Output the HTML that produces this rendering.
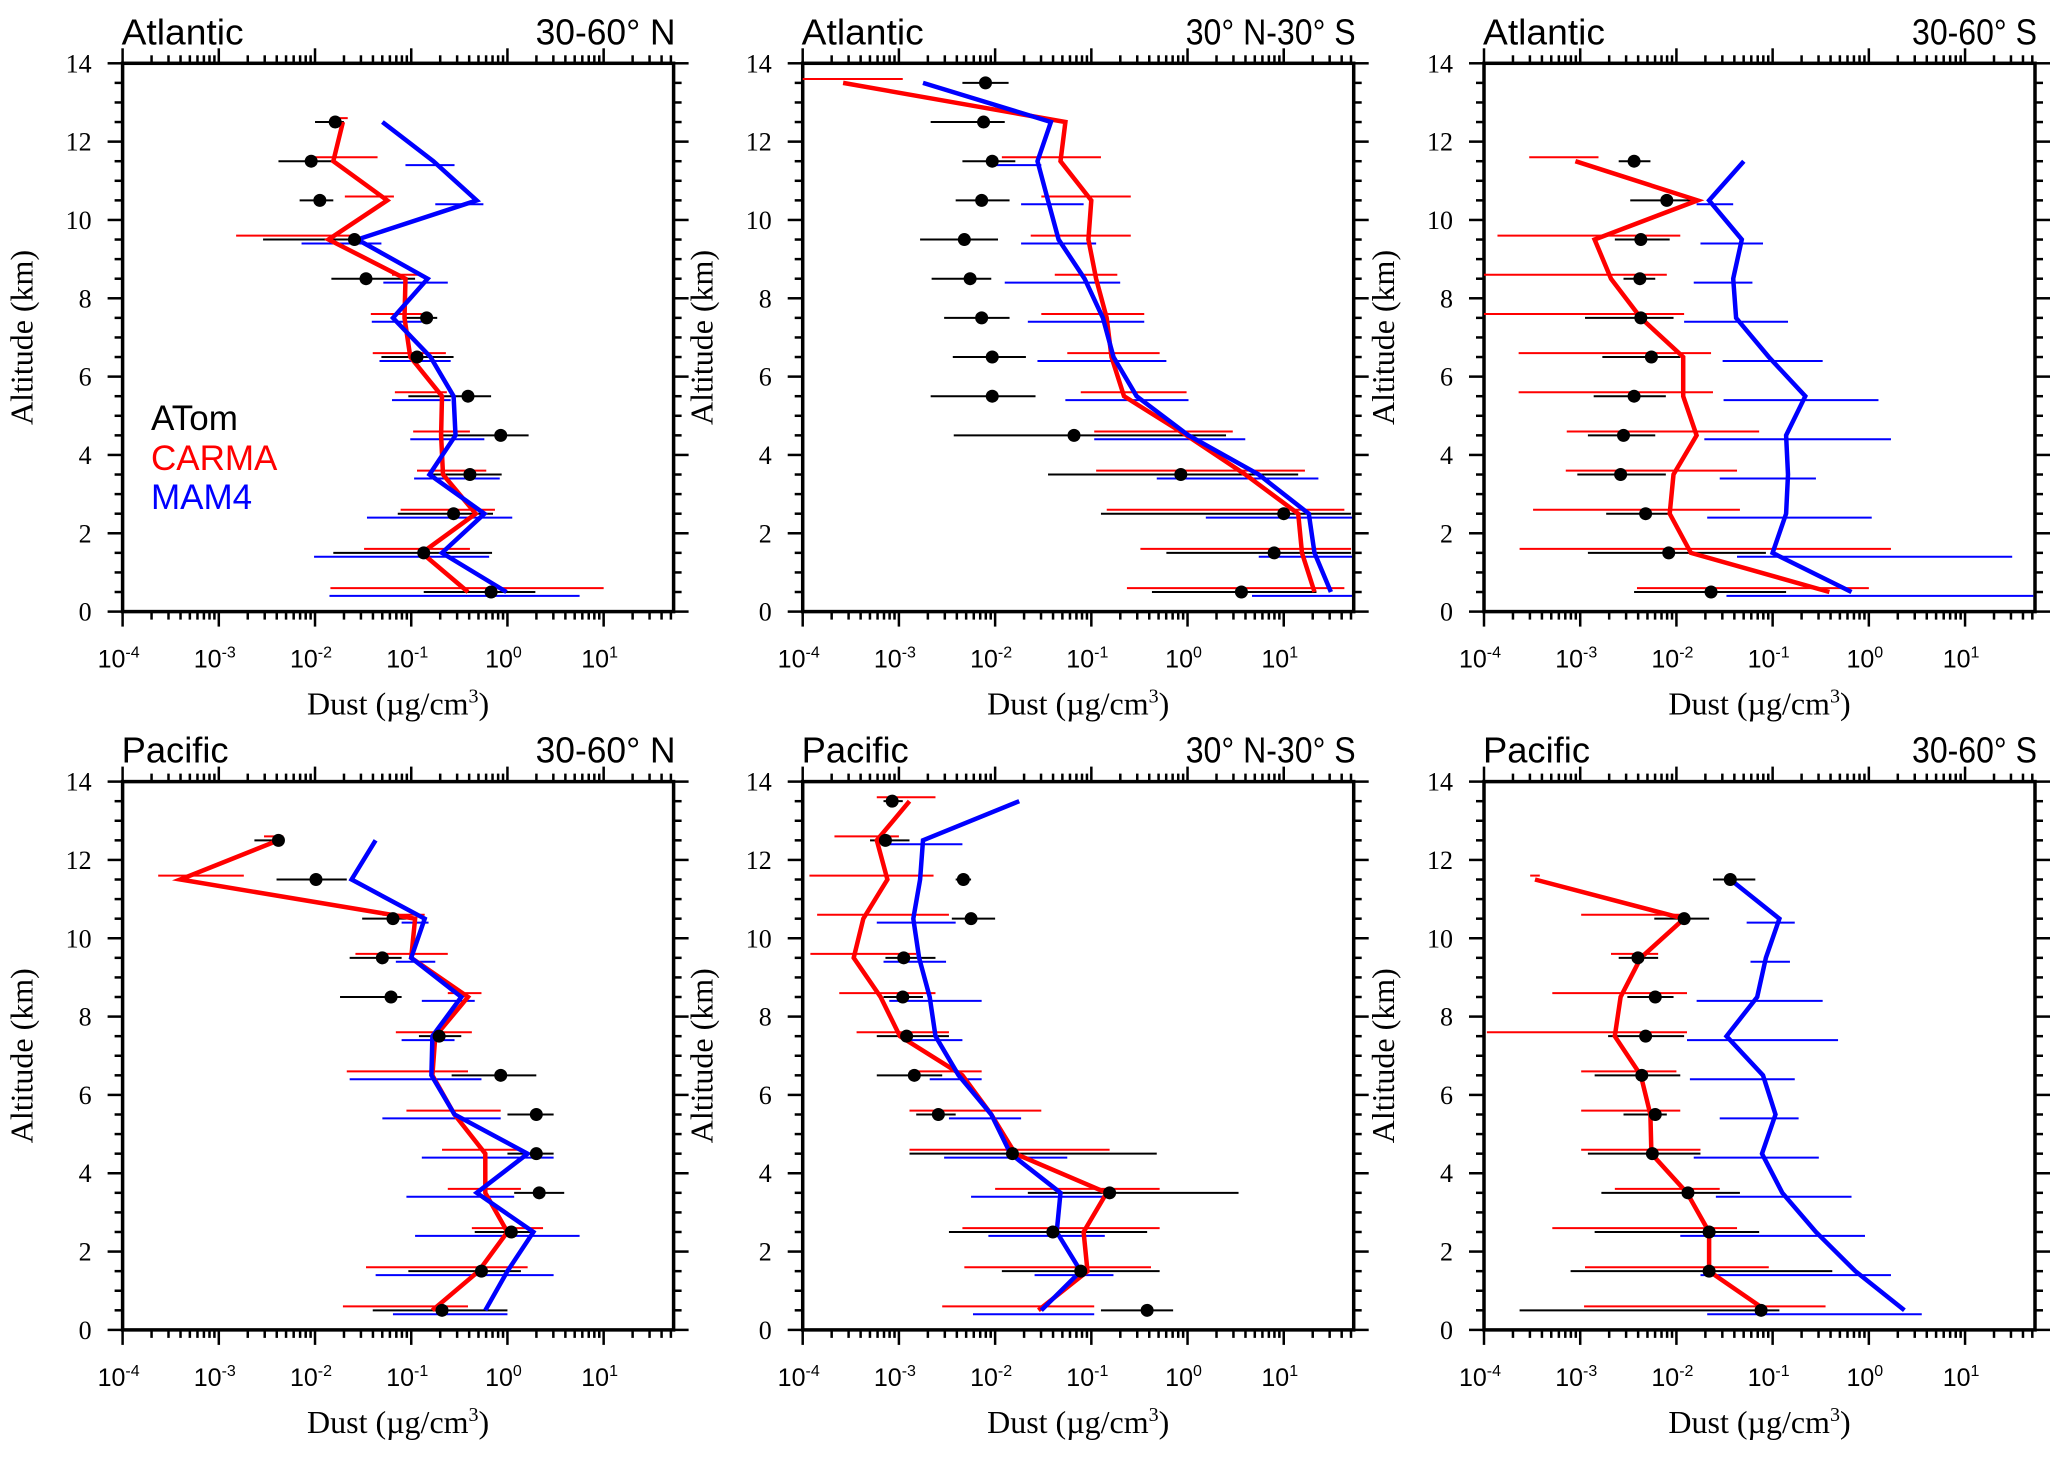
<!DOCTYPE html>
<html><head><meta charset="utf-8">
<style>
html,body{margin:0;padding:0;background:#fff;}
svg{display:block;}
.serif{font-family:"Liberation Serif","DejaVu Serif",serif;}
.sans{font-family:"Liberation Sans","DejaVu Sans",sans-serif;}
</style></head>
<body>
<svg id="chart" width="2067" height="1458" viewBox="0 0 2067 1458" xmlns="http://www.w3.org/2000/svg"></svg>
<script>
// altitudes (km)
const altitudes = [13.5,12.5,11.5,10.5,9.5,8.5,7.5,6.5,5.5,4.5,3.5,2.5,1.5,0.5];
const xTickExps = [-4,-3,-2,-1,0,1];
const yTicks = [0,2,4,6,8,10,12,14];
const panelTitles = ["Atlantic","Atlantic","Atlantic","Pacific","Pacific","Pacific"];
const panelRegions = ["30-60° N","30° N-30° S","30-60° S","30-60° N","30° N-30° S","30-60° S"];
// values are log10(µg/cm3); null = missing
// Panel 1 Atlantic 30-60N
const p1AtomVal=[null,-1.79,-2.04,-1.95,-1.59,-1.47,-0.84,-0.94,-0.41,-0.07,-0.39,-0.56,-0.87,-0.17];
const p1AtomLo=[null,-2.0,-2.38,-2.16,-2.54,-1.83,-1.05,-1.31,-1.03,-0.70,-0.82,-1.14,-1.81,-0.87];
const p1AtomHi=[null,-1.70,-1.79,-1.81,-1.52,-0.96,-0.73,-0.56,-0.17,0.22,-0.06,-0.15,-0.16,0.29];
const p1CarmaVal=[null,-1.71,-1.81,-1.25,-1.86,-1.06,-1.07,-1.01,-0.68,-0.69,-0.67,-0.33,-0.89,-0.41];
const p1CarmaLo=[null,-1.84,-2.07,-1.69,-2.82,-1.20,-1.42,-1.40,-1.17,-0.98,-0.94,-1.11,-1.49,-1.84];
const p1CarmaHi=[null,-1.66,-1.35,-1.18,-1.56,-0.92,-0.89,-0.64,-0.63,-0.39,-0.22,-0.13,-0.39,1.0];
const p1MamVal=[null,-1.30,-0.77,-0.32,-1.56,-0.83,-1.19,-0.80,-0.56,-0.54,-0.81,-0.24,-0.68,-0.01];
const p1MamLo=[null,null,-1.06,-0.75,-2.14,-1.29,-1.41,-1.33,-1.20,-1.01,-0.97,-1.46,-2.01,-1.85];
const p1MamHi=[null,null,-0.55,-0.25,-1.31,-0.62,-0.89,-0.59,-0.59,-0.24,-0.08,0.05,-0.19,0.75];
// Panel 2 Atlantic 30N-30S
const p2AtomVal=[-2.10,-2.12,-2.03,-2.14,-2.32,-2.26,-2.14,-2.03,-2.03,-1.18,-0.07,1.0,0.90,0.56];
const p2AtomLo=[-2.34,-2.67,-2.34,-2.41,-2.78,-2.66,-2.53,-2.44,-2.67,-2.43,-1.45,-0.90,-0.22,-0.37];
const p2AtomHi=[-1.86,-1.90,-1.79,-1.85,-1.97,-2.04,-1.85,-1.68,-1.58,0.40,1.15,1.70,1.70,1.34];
const p2CarmaVal=[-3.58,-1.27,-1.32,-1.00,-1.03,-0.95,-0.84,-0.79,-0.66,-0.01,0.60,1.15,1.19,1.32];
const p2CarmaLo=[-4.0,null,-1.93,-1.52,-1.63,-1.38,-1.52,-1.25,-1.11,-0.97,-0.95,-0.84,-0.49,-0.63];
const p2CarmaHi=[-2.96,null,-0.90,-0.59,-0.59,-0.73,-0.45,-0.29,-0.01,0.47,1.22,1.63,1.70,1.63];
const p2MamVal=[-2.75,-1.42,-1.56,-1.45,-1.34,-1.07,-0.88,-0.77,-0.53,0.01,0.74,1.26,1.32,1.49];
const p2MamLo=[null,null,-2.04,-1.73,-1.73,-1.90,-1.66,-1.56,-1.27,-0.97,-0.32,0.19,0.74,0.67];
const p2MamHi=[null,null,-1.52,-1.08,-0.95,-0.70,-0.45,-0.22,0.01,0.60,1.36,1.71,1.71,1.71];
// Panel 3 Atlantic 30-60S
const p3AtomVal=[null,null,-2.44,-2.10,-2.37,-2.38,-2.37,-2.26,-2.44,-2.55,-2.58,-2.32,-2.08,-1.64];
const p3AtomLo=[null,null,-2.60,-2.48,-2.64,-2.55,-2.95,-2.77,-2.86,-2.92,-3.03,-2.73,-2.92,-2.44];
const p3AtomHi=[null,null,-2.27,-1.82,-2.07,-2.22,-2.03,-1.96,-2.11,-2.22,-2.11,-2.05,-1.07,-0.86];
const p3CarmaVal=[null,null,-3.05,-1.78,-2.85,-2.68,-2.37,-1.93,-1.93,-1.79,-2.03,-2.07,-1.85,-0.41];
const p3CarmaLo=[null,null,-3.53,null,-3.86,-4.0,-4.0,-3.64,-3.64,-3.14,-3.15,-3.49,-3.63,-2.41];
const p3CarmaHi=[null,null,-2.81,null,-1.96,-2.10,-1.92,-1.64,-1.62,-1.14,-1.37,-1.34,0.23,0.0];
const p3MamVal=[null,null,-1.30,-1.66,-1.32,-1.41,-1.38,-1.04,-0.66,-0.86,-0.84,-0.86,-1.0,-0.18];
const p3MamLo=[null,null,null,-1.79,-1.75,-1.82,-1.92,-1.52,-1.51,-1.71,-1.55,-1.68,-1.37,-1.48];
const p3MamHi=[null,null,null,-1.41,-1.10,-1.21,-0.84,-0.48,0.10,0.23,-0.55,0.03,1.49,1.71];
// Panel 4 Pacific 30-60N
const p4AtomVal=[null,-2.38,-1.99,-1.19,-1.30,-1.21,-0.71,-0.07,0.30,0.30,0.33,0.04,-0.27,-0.68];
const p4AtomLo=[null,-2.63,-2.40,-1.51,-1.64,-1.74,-0.92,-0.58,0.0,0.0,0.07,-0.34,-1.03,-1.40];
const p4AtomHi=[null,-2.34,-1.67,-1.05,-1.10,-1.10,-0.48,0.30,0.48,0.48,0.59,0.27,0.14,0.0];
const p4CarmaVal=[null,-2.38,-3.40,-0.96,-1.0,-0.41,-0.75,-0.78,-0.55,-0.23,-0.23,0.0,-0.30,-0.78];
const p4CarmaLo=[null,-2.53,-3.63,-1.30,-1.58,-0.62,-1.16,-1.67,-1.05,-0.68,-0.62,-0.37,-1.47,-1.71];
const p4CarmaHi=[null,-2.33,-2.74,-0.86,-0.62,-0.27,-0.37,-0.41,-0.07,0.14,0.14,0.37,0.21,-0.41];
const p4MamVal=[null,-1.37,-1.62,-0.86,-1.0,-0.48,-0.78,-0.79,-0.55,0.21,-0.32,0.27,0.0,-0.23];
const p4MamLo=[null,null,null,-1.10,-1.16,-0.89,-1.10,-1.64,-1.30,-0.89,-1.05,-0.96,-1.37,-1.19];
const p4MamHi=[null,null,null,-0.82,-0.75,-0.34,-0.55,-0.27,-0.07,0.48,0.07,0.75,0.48,0.0];
// Panel 5 Pacific 30N-30S
const p5AtomVal=[-3.07,-3.14,-2.33,-2.25,-2.95,-2.96,-2.92,-2.84,-2.59,-1.82,-0.81,-1.40,-1.11,-0.42];
const p5AtomLo=[-3.16,-3.30,-2.41,-2.45,-3.14,-3.16,-3.23,-3.23,-2.82,-2.89,-1.66,-2.48,-1.93,-0.90];
const p5AtomHi=[-2.96,-2.89,-2.25,-2.0,-2.62,-2.75,-2.48,-2.55,-2.41,-0.32,0.53,-0.42,-0.29,-0.15];
const p5CarmaVal=[-2.89,-3.23,-3.12,-3.37,-3.47,-3.19,-2.99,-2.34,-2.04,-1.79,-0.84,-1.08,-1.04,-1.55];
const p5CarmaLo=[-3.23,-3.67,-3.93,-3.85,-3.92,-3.62,-3.44,-2.89,-2.89,-2.89,-2.0,-2.34,-2.32,-2.55];
const p5CarmaHi=[-2.62,-3.0,-2.64,-2.48,-2.82,-2.62,-2.48,-2.14,-1.52,-0.81,-0.29,-0.29,-0.38,-0.97];
const p5MamVal=[-1.75,-2.75,-2.78,-2.85,-2.79,-2.68,-2.62,-2.38,-2.04,-1.84,-1.32,-1.36,-1.11,-1.52];
const p5MamLo=[null,-3.16,null,-3.23,-3.16,-3.10,-2.89,-2.68,-2.48,-2.53,-2.25,-2.07,-1.59,-2.23];
const p5MamHi=[null,-2.34,null,-2.41,-2.51,-2.14,-2.34,-2.14,-1.73,-1.25,-0.81,-0.86,-0.77,-0.97];
// Panel 6 Pacific 30-60S
const p6AtomVal=[null,null,-1.44,-1.92,-2.40,-2.22,-2.32,-2.36,-2.22,-2.25,-1.88,-1.66,-1.66,-1.12];
const p6AtomLo=[null,null,-1.62,-2.23,-2.60,-2.51,-2.71,-2.85,-2.55,-2.92,-2.78,-2.85,-3.10,-3.63];
const p6AtomHi=[null,null,-1.18,-1.66,-2.19,-2.03,-1.92,-1.96,-2.10,-1.75,-1.34,-1.14,-0.38,-0.93];
const p6CarmaVal=[null,null,-3.47,-1.92,-2.37,-2.58,-2.64,-2.37,-2.27,-2.26,-1.89,-1.66,-1.66,-1.07];
const p6CarmaLo=[null,null,-3.52,-2.99,-2.68,-3.29,-3.97,-2.99,-2.99,-2.99,-2.64,-3.29,-2.95,-2.96];
const p6CarmaHi=[null,null,-3.42,-1.92,-2.19,-1.89,-1.89,-2.0,-1.96,-1.75,-1.55,-1.37,-1.04,-0.45];
const p6MamVal=[null,null,-1.44,-0.93,-1.07,-1.16,-1.48,-1.10,-0.97,-1.11,-0.90,-0.55,-0.14,0.37];
const p6MamLo=[null,null,null,-1.27,-1.23,-1.79,-1.89,-1.86,-1.55,-1.82,-1.59,-1.96,-1.75,-1.68];
const p6MamHi=[null,null,null,-0.77,-0.82,-0.48,-0.32,-0.77,-0.73,-0.52,-0.18,-0.04,0.23,0.55];

const panels=[
 [p1AtomVal,p1AtomLo,p1AtomHi,p1CarmaVal,p1CarmaLo,p1CarmaHi,p1MamVal,p1MamLo,p1MamHi],
 [p2AtomVal,p2AtomLo,p2AtomHi,p2CarmaVal,p2CarmaLo,p2CarmaHi,p2MamVal,p2MamLo,p2MamHi],
 [p3AtomVal,p3AtomLo,p3AtomHi,p3CarmaVal,p3CarmaLo,p3CarmaHi,p3MamVal,p3MamLo,p3MamHi],
 [p4AtomVal,p4AtomLo,p4AtomHi,p4CarmaVal,p4CarmaLo,p4CarmaHi,p4MamVal,p4MamLo,p4MamHi],
 [p5AtomVal,p5AtomLo,p5AtomHi,p5CarmaVal,p5CarmaLo,p5CarmaHi,p5MamVal,p5MamLo,p5MamHi],
 [p6AtomVal,p6AtomLo,p6AtomHi,p6CarmaVal,p6CarmaLo,p6CarmaHi,p6MamVal,p6MamLo,p6MamHi]];

const NS="http://www.w3.org/2000/svg";
const svg=document.getElementById('chart');
function mk(tag,attrs,parent){const e=document.createElementNS(NS,tag);for(const k in attrs)e.setAttribute(k,attrs[k]);(parent||svg).appendChild(e);return e;}
const colL=[122.6,802.7,1484], rowT=[63.3,781.6], PW=551, PH=548.3;
const XMIN=-4, XMAX=1.727;
const regionWidths={"30-60° N":140,"30° N-30° S":170,"30-60° S":125};
const titleWidths={"Atlantic":122,"Pacific":107};

panels.forEach((P,pi)=>{
  const L=colL[pi%3], T=rowT[Math.floor(pi/3)], R=L+PW, B=T+PH;
  const xs=v=>L+(v-XMIN)/(XMAX-XMIN)*PW;
  const ys=a=>B-a/14*PH;
  const g=mk('g',{});
  
  
  const tk=mk('g',{stroke:'#000','stroke-width':2.5},g);
  
  
  for(let a=0;a<=14;a+=0.5){const y=ys(a),len=(a%2===0)?15:8;
    mk('line',{x1:L-len,y1:y,x2:L,y2:y},tk);mk('line',{x1:R,y1:y,x2:R+len,y2:y},tk);}
  for(let d=-4;d<=1;d++){for(let m=1;m<10;m++){const v=d+Math.log10(m);if(v>XMAX)break;const x=xs(v),len=m===1?15:8;
    mk('line',{x1:x,y1:B,x2:x,y2:B+len},tk);mk('line',{x1:x,y1:T,x2:x,y2:T-len},tk);}}
  const fr=mk('rect',{x:L,y:T,width:PW,height:PH,fill:'none',stroke:'#000','stroke-width':3.5},g);
  
  
  yTicks.forEach(t=>{const e=mk('text',{x:L-31,y:ys(t)+9,'text-anchor':'end','font-size':26,class:'serif'},g);e.textContent=t;
    });
  xTickExps.forEach(t=>{const e=mk('text',{x:xs(t)-4,y:B+56,'text-anchor':'middle','font-size':25,class:'sans'},g);
    
    const s1=mk('tspan',{},e);s1.textContent='10';const s2=mk('tspan',{dy:-10,'font-size':16},e);s2.textContent=String(t);});
  let e=mk('text',{x:L+PW/2,y:B+103,'text-anchor':'middle','font-size':32,class:'serif'},g);
  
  let s=mk('tspan',{},e);s.textContent='Dust (µg/cm';s=mk('tspan',{dy:-12,'font-size':20},e);s.textContent='3';s=mk('tspan',{dy:12},e);s.textContent=')';
  e=mk('text',{transform:`translate(${L-90},${T+PH/2}) rotate(-90)`,'text-anchor':'middle','font-size':32,class:'serif'},g);
  e.textContent='Altitude (km)';
  e=mk('text',{x:L-1,y:T-19,'font-size':36,class:'sans',textLength:titleWidths[panelTitles[pi]],lengthAdjust:'spacingAndGlyphs'},g);
  e.textContent=panelTitles[pi];
  const rw=regionWidths[panelRegions[pi]];
  e=mk('text',{x:R+2-rw,y:T-19,'font-size':36,class:'sans',textLength:rw,lengthAdjust:'spacingAndGlyphs'},g);
  e.textContent=panelRegions[pi];

  const series=[{v:P[3],lo:P[4],hi:P[5],c:'#ff0000',off:0.1,n:'carma'},{v:P[6],lo:P[7],hi:P[8],c:'#0000ff',off:-0.1,n:'mam4'}];
  series.forEach(S=>{altitudes.forEach((a,i)=>{if(S.lo[i]==null)return;
    const l=mk('line',{x1:xs(S.lo[i]),x2:xs(S.hi[i]),y1:ys(a+S.off),y2:ys(a+S.off),stroke:S.c,'stroke-width':2},g);
    });});
  altitudes.forEach((a,i)=>{if(P[1][i]==null)return;
    const l=mk('line',{x1:xs(P[1][i]),x2:xs(P[2][i]),y1:ys(a),y2:ys(a),stroke:'#000','stroke-width':2},g);
    });
  series.forEach(S=>{const pts=[];altitudes.forEach((a,i)=>{if(S.v[i]!=null)pts.push(xs(S.v[i]).toFixed(1)+','+ys(a).toFixed(1));});
    const pl=mk('polyline',{points:pts.join(' '),fill:'none',stroke:S.c,'stroke-width':4.5,'stroke-linejoin':'miter'},g);
    });
  altitudes.forEach((a,i)=>{if(P[0][i]==null)return;
    const c=mk('circle',{cx:xs(P[0][i]),cy:ys(a),r:6.5,fill:'#000'},g);
    });
});
[['ATom','#000',430],['CARMA','#ff0000',470],['MAM4','#0000ff',509]].forEach(d=>{
  const t=mk('text',{x:151,y:d[2],'font-size':35,fill:d[1],class:'sans'});t.textContent=d[0];
  
  
});
</script>
</body></html>
